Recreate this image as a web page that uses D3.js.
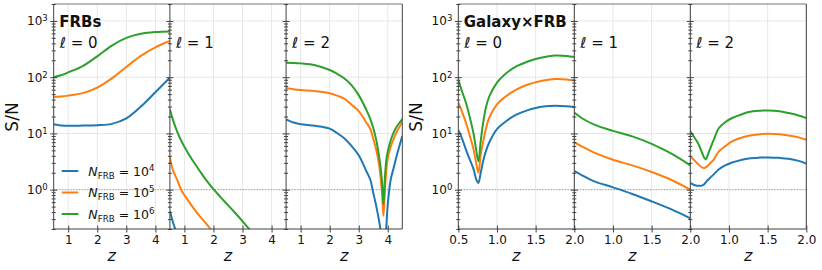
<!DOCTYPE html>
<html><head><meta charset="utf-8">
<script src="https://cdn.jsdelivr.net/npm/d3@7"></script>
<style>body{margin:0;background:#fff;} svg{display:block;font-family:"DejaVu Sans",sans-serif;}</style>
</head><body><svg id="c" width="822" height="270"></svg>
<script>
// ---------------- DATA ----------------
const yDomain = [0.2, 2000];
const yMajorTicks = [1, 10, 100, 1000];
const legendExps = ["4", "5", "6"];
const seriesColors = ["#1f77b4", "#ff7f0e", "#2ca02c"];

// FRBs, x ticks
const frbXTicks = [1, 2, 3, 4];
// Galaxy x FRB, x ticks
const galXTicksFirst = [0.5, 1.0, 1.5, 2.0];
const galXTicksOther = [1.0, 1.5, 2.0];

// FRBs  l=0
const zFrbL0 = [0.5, 0.75, 1.0, 1.5, 2.0, 2.5, 3.0, 3.5, 4.0, 4.5];
const frbL0_N4 = [14.5, 13.9, 13.7, 13.8, 14.0, 14.8, 18.5, 30, 54, 98];
const frbL0_N5 = [45, 45.5, 47, 52, 65, 95, 152, 240, 340, 440];
const frbL0_N6 = [100, 108, 122, 158, 235, 365, 500, 590, 635, 650];

// FRBs  l=1
const zFrbL1 = [0.5, 0.6, 0.75, 0.9, 1.0, 1.25, 1.5, 1.75, 2.0, 2.25, 2.5, 2.75, 3.0, 3.25, 3.5];
const frbL1_N4 = [0.42, 0.27, 0.16, null, null, null, null, null, null, null, null, null, null, null, null];
const frbL1_N5 = [3.8, 2.25, 1.5, 0.97, 0.8, 0.52, 0.35, 0.25, 0.17, null, null, null, null, null, null];
const frbL1_N6 = [27, 17.8, 10.8, 7.26, 5.8, 3.5, 2.26, 1.48, 1.02, 0.73, 0.53, 0.385, 0.275, 0.195, 0.138];

// FRBs  l=2
const zFrbL2 = [0.5, 0.75, 1.0, 1.5, 2.0, 2.25, 2.5, 2.75, 3.0, 3.25, 3.4, 3.5, 3.6, 3.7, 3.75, 3.8, 3.85, 3.9, 3.95, 4.0, 4.1, 4.2, 4.3, 4.5];
const frbL2_N4 = [17.7, 15.6, 14.6, 13.7, 12.2, 10.2, 8.2, 6.0, 4.1, 2.2, 1.5, 0.88, 0.52, 0.28, 0.19, 0.08, 0.03, 0.09, 0.22, 0.55, 1.5, 2.4, 3.9, 9];
const frbL2_N5 = [64, 61, 59, 56.5, 52, 47, 41.5, 32.5, 25, 16, 12, 8, 5.2, 2.8, 1.72, 0.9, 0.34, 0.9, 2.3, 3.6, 5.8, 7.9, 10.5, 16];
const frbL2_N6 = [180, 179, 176, 163, 134, 115, 96, 72, 48, 27, 18, 12.5, 7.8, 3.9, 2.6, 1.4, 0.55, 1.6, 3.4, 4.8, 7.5, 10.3, 13, 18];

// Galaxy x FRB  l=0
const zGalL0 = [0.5, 0.55, 0.6, 0.65, 0.7, 0.73, 0.76, 0.79, 0.82, 0.86, 0.9, 1.0, 1.1, 1.25, 1.4, 1.5, 1.6, 1.75, 1.9, 2.0];
const galL0_N4 = [11.6, 8, 5.1, 3.4, 2.25, 1.55, 1.32, 2.0, 3.16, 5.0, 6.9, 11.9, 15.8, 21.5, 26, 28.3, 30, 31, 30.3, 29.4];
const galL0_N5 = [35.6, 24, 15.3, 9, 5.0, 3.0, 2.0, 4.2, 7, 12.5, 19, 33, 44, 60, 74, 81, 87, 92.5, 91, 87];
const galL0_N6 = [90, 55, 34.7, 19, 9.5, 5.2, 3.2, 7.3, 15, 30, 45, 80, 112, 155, 190, 210, 226, 242, 238, 228];

// Galaxy x FRB  l=1
const zGalL1 = [0.5, 0.6, 0.75, 1.0, 1.25, 1.5, 1.75, 2.0];
const galL1_N4 = [2.17, 1.8, 1.42, 1.1, 0.84, 0.62, 0.45, 0.31];
const galL1_N5 = [7.0, 5.85, 4.6, 3.4, 2.7, 2.06, 1.5, 1.0];
const galL1_N6 = [23.5, 18.6, 14.5, 11.1, 8.85, 6.5, 4.4, 2.7];

// Galaxy x FRB  l=2
const zGalL2 = [0.5, 0.56, 0.61, 0.65, 0.68, 0.70, 0.73, 0.76, 0.8, 0.87, 0.95, 1.04, 1.15, 1.255, 1.4, 1.51, 1.65, 1.77, 1.9, 2.0];
const galL2_N4 = [1.32, 1.2, 1.17, 1.18, 1.25, 1.35, 1.5, 1.64, 1.85, 2.3, 2.7, 3.05, 3.35, 3.6, 3.72, 3.75, 3.68, 3.55, 3.25, 2.9];
const galL2_N5 = [3.9, 3.25, 2.78, 2.5, 2.43, 2.5, 2.7, 2.98, 3.4, 4.8, 5.9, 7.2, 8.3, 9.1, 9.7, 9.9, 9.7, 9.2, 8.5, 7.7];
const galL2_N6 = [10.9, 8.2, 6.3, 4.6, 3.7, 3.45, 4.3, 5.5, 7.5, 12.5, 15.8, 18.8, 21.5, 24, 25.3, 25.6, 24.8, 23, 20.8, 18.7];

// ---------------- LAYOUT ----------------
const Y_TOP = 4, Y_BOT = 229;
const SPINE = "#404040";
const svg = d3.select("#c");
const y = d3.scaleLog().domain(yDomain).range([Y_BOT, Y_TOP]);

const yMinorTicks = [];
[0.1, 1, 10, 100, 1000].forEach(d => { for (let k = 2; k <= 9; k++) { const v = d * k; if (v >= yDomain[0] && v <= yDomain[1]) yMinorTicks.push(v); } });

const groups = [
  { left: 53.7, pw: 116.2, xdom: [0.5, 4.5], fmt: d3.format("d"), title: "FRBs", ylabelX: 18,
    panels: [
      { z: zFrbL0, s: [frbL0_N4, frbL0_N5, frbL0_N6], ell: "0", ticks: frbXTicks },
      { z: zFrbL1, s: [frbL1_N4, frbL1_N5, frbL1_N6], ell: "1", ticks: frbXTicks },
      { z: zFrbL2, s: [frbL2_N4, frbL2_N5, frbL2_N6], ell: "2", ticks: frbXTicks }
    ], legend: true },
  { left: 458.3, pw: 116, xdom: [0.5, 2.0], fmt: d3.format(".1f"), title: "Galaxy×FRB", ylabelX: 422,
    panels: [
      { z: zGalL0, s: [galL0_N4, galL0_N5, galL0_N6], ell: "0", ticks: galXTicksFirst },
      { z: zGalL1, s: [galL1_N4, galL1_N5, galL1_N6], ell: "1", ticks: galXTicksOther },
      { z: zGalL2, s: [galL2_N4, galL2_N5, galL2_N6], ell: "2", ticks: galXTicksOther }
    ], legend: false }
];

let clipId = 0;
groups.forEach(g => {
  g.panels.forEach((p, pi) => {
    const x0 = g.left + pi * g.pw, x1 = x0 + g.pw;
    const x = d3.scaleLinear().domain(g.xdom).range([x0, x1]);
    const pg = svg.append("g");
    const cid = "clip" + (clipId++);
    pg.append("clipPath").attr("id", cid).append("rect")
      .attr("x", x0).attr("y", Y_TOP).attr("width", g.pw).attr("height", Y_BOT - Y_TOP);

    // grid
    const grid = pg.append("g").attr("stroke", "#e4e4e4").attr("stroke-width", 0.9);
    p.ticks.forEach(t => { if (t > g.xdom[0]) grid.append("line").attr("x1", x(t)).attr("x2", x(t)).attr("y1", Y_TOP).attr("y2", Y_BOT); });
    yMajorTicks.forEach(t => grid.append("line").attr("x1", x0).attr("x2", x1).attr("y1", y(t)).attr("y2", y(t)));
    // dotted line at S/N = 1
    pg.append("line").attr("x1", x0).attr("x2", x1).attr("y1", y(1)).attr("y2", y(1))
      .attr("stroke", "#9a9a9a").attr("stroke-width", 1).attr("stroke-dasharray", "1.2,1.6");

    // series
    const line = d3.line().defined(d => d[1] != null)
      .x(d => x(d[0])).y(d => y(d[1])).curve(d3.curveCatmullRom.alpha(0.5));
    const lg = pg.append("g").attr("clip-path", `url(#${cid})`);
    p.s.forEach((vals, si) => {
      lg.append("path").datum(p.z.map((z, i) => [z, vals[i]]))
        .attr("d", line).attr("fill", "none").attr("stroke", seriesColors[si])
        .attr("stroke-width", 2).attr("stroke-linejoin", "round");
    });

    // spines
    const sp = pg.append("g").attr("stroke", SPINE).attr("stroke-width", 1);
    sp.append("line").attr("x1", x0).attr("x2", x0).attr("y1", Y_TOP).attr("y2", Y_BOT);
    sp.append("line").attr("x1", x0).attr("x2", x1).attr("y1", Y_BOT).attr("y2", Y_BOT);
    sp.append("line").attr("x1", x0).attr("x2", x1).attr("y1", Y_TOP).attr("y2", Y_TOP).attr("stroke", "#777");
    if (pi === g.panels.length - 1)
      sp.append("line").attr("x1", x1).attr("x2", x1).attr("y1", Y_TOP).attr("y2", Y_BOT);

    // y axis major
    const gy = pg.append("g").attr("transform", `translate(${x0},0)`)
      .call(d3.axisLeft(y).tickValues(yMajorTicks).tickSize(3.5).tickPadding(2.5).tickFormat(() => ""));
    gy.select(".domain").remove();
    gy.selectAll(".tick line").attr("x1", 3.5).attr("stroke", SPINE);
    gy.attr("font-family", "DejaVu Sans").attr("font-size", 12);
    if (pi === 0) {
      gy.selectAll(".tick text").attr("fill", "#111").each(function (d) {
        const t = d3.select(this);
        t.append("tspan").text("10");
        t.append("tspan").attr("dy", "-0.45em").attr("font-size", "8.5px").text(Math.round(Math.log10(d)));
      });
    }
    // y axis minor
    const gym = pg.append("g").attr("transform", `translate(${x0},0)`)
      .call(d3.axisLeft(y).tickValues(yMinorTicks).tickSize(2).tickFormat(() => ""));
    gym.select(".domain").remove();
    gym.selectAll(".tick line").attr("x1", 2).attr("stroke", SPINE);

    // x axis
    const gx = pg.append("g").attr("transform", `translate(0,${Y_BOT})`)
      .call(d3.axisBottom(x).tickValues(p.ticks).tickSize(3.5).tickPadding(2.5).tickFormat(g.fmt));
    gx.select(".domain").remove();
    gx.selectAll(".tick line").attr("y1", -3.5).attr("stroke", SPINE);
    gx.attr("font-family", "DejaVu Sans").attr("font-size", 12);
    gx.selectAll(".tick text").attr("fill", "#111");

    // z label
    pg.append("text").attr("x", (x0 + x1) / 2).attr("y", 261).attr("text-anchor", "middle")
      .attr("font-size", 16).attr("font-style", "italic").attr("fill", "#111").text("z");

    // ell label
    pg.append("text").attr("x", x0 + 6).attr("y", 48).attr("font-size", 15).attr("fill", "#111")
      .text(`ℓ = ${p.ell}`);
  });

  // title
  svg.append("text").attr("x", g.left + 5.5).attr("y", 26.5).attr("font-size", 15)
    .attr("font-weight", "bold").attr("fill", "#111").text(g.title);

  // y label
  svg.append("text").attr("transform", `translate(${g.ylabelX},117) rotate(-90)`)
    .attr("text-anchor", "middle").attr("font-size", 17).attr("fill", "#111").text("S/N");

  // legend
  if (g.legend) {
    legendExps.forEach((e, i) => {
      const ly = 171 + i * 21.5;
      svg.append("line").attr("x1", 61.7).attr("x2", 78.3).attr("y1", ly).attr("y2", ly)
        .attr("stroke", seriesColors[i]).attr("stroke-width", 2);
      const t = svg.append("text").attr("x", 88.3).attr("y", ly + 4.5).attr("font-size", 12.5).attr("fill", "#111");
      t.append("tspan").attr("font-style", "italic").text("N");
      t.append("tspan").attr("font-size", "8.7px").attr("dy", 3).text("FRB");
      t.append("tspan").attr("dy", -3).text(" = 10");
      t.append("tspan").attr("font-size", "8.7px").attr("dy", -5).text(e);
    });
  }
});
</script>
</body></html>
